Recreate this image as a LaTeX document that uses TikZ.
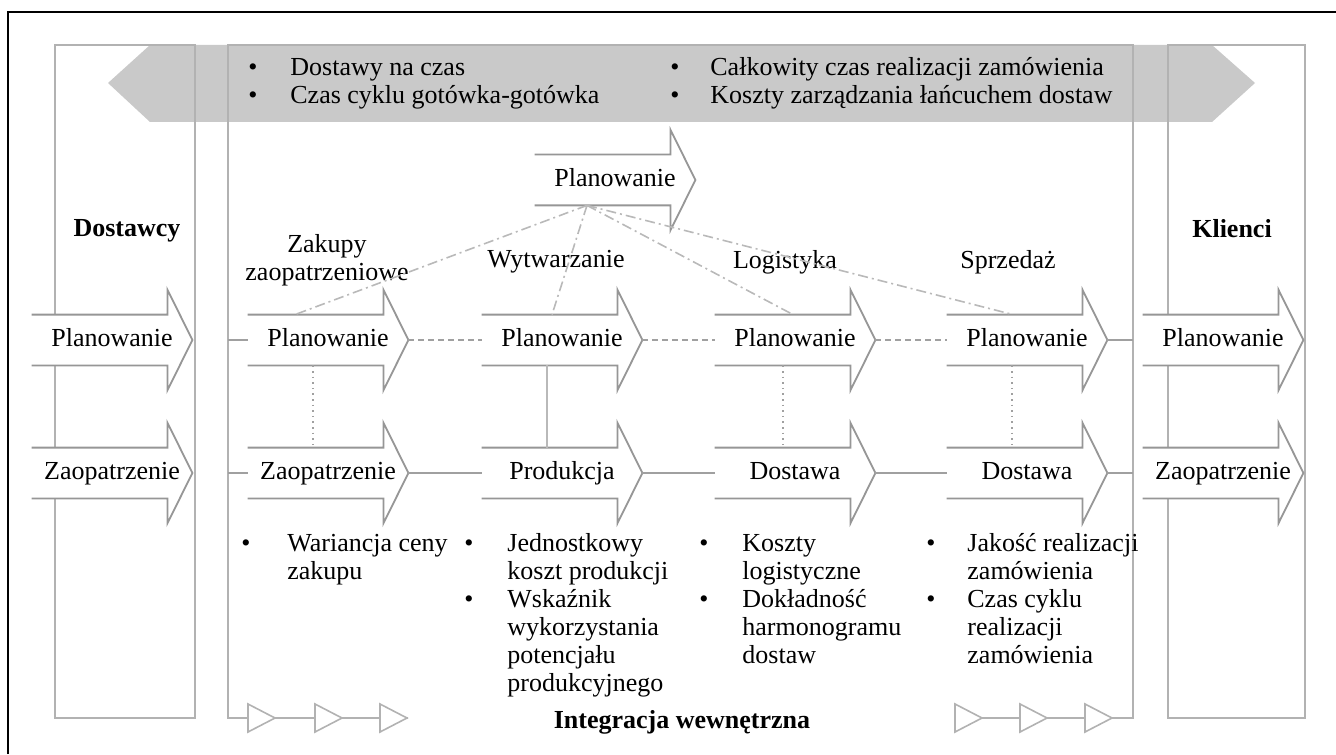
\documentclass[tikz,border=0pt]{standalone}
\usepackage{fontspec}
\setmainfont{Liberation Serif}
\usepackage{array}
\usetikzlibrary{positioning,calc}

\definecolor{bandgrey}{RGB}{201,201,201}
\definecolor{framegrey}{RGB}{178,178,178}
\definecolor{arrowgrey}{RGB}{150,150,150}
\definecolor{linkgrey}{RGB}{160,160,160}
\definecolor{fangrey}{RGB}{185,185,185}

\newcommand{\kb}{\textbullet}

\pgfdeclarelayer{back}
\pgfdeclarelayer{mid}
\pgfsetlayers{back,mid,main}

\begin{document}
\begin{tikzpicture}[x=0.5pt, y=-0.5pt,
        font=\fontsize{13}{14}\selectfont,
        flow/.style={minimum width=80pt, minimum height=25pt, inner sep=0pt, text height=9pt, text depth=2.5pt},
        arrline/.style={draw=arrowgrey, line width=0.9pt, fill=white},
        frame/.style={draw=framegrey, line width=0.9pt},
        link/.style={draw=linkgrey, line width=0.8pt},
        planlink/.style={link, dash pattern=on 3pt off 2pt},
        dotlink/.style={link, dotted},
        fanlink/.style={draw=fangrey, line width=0.8pt, dash pattern=on 5pt off 2pt on 1pt off 2pt},
        tri/.style={draw=framegrey, line width=0.8pt, fill=white},
        head/.style={font=\fontsize{13}{14}\selectfont\bfseries},
        kpi/.style={anchor=base west, inner sep=0pt, align=left}
    ]
    \useasboundingbox (0,0) rectangle (1336,754);

    % outer frame
    \draw[line width=1pt] (8,754) -- (8,12) -- (1336,12);

    % corners of the internal integration box
    \coordinate (wewNW) at (228,45);
    \coordinate (wewSE) at (1133,718);

    % Nodes
    \node[flow] (dp) at (112,340) {Planowanie};
    \node[flow] (dz) at (112,473) {Zaopatrzenie};
    \node[flow] (zp) at (328,340) {Planowanie};
    \node[flow] (zz) at (328,473) {Zaopatrzenie};
    \node[flow] (wp) at (562,340) {Planowanie};
    \node[flow] (wz) at (562,473) {Produkcja};
    \node[flow] (lp) at (795,340) {Planowanie};
    \node[flow] (lz) at (795,473) {Dostawa};
    \node[flow] (sp) at (1027,340) {Planowanie};
    \node[flow] (sz) at (1027,473) {Dostawa};
    \node[flow] (kp) at (1223,340) {Planowanie};
    \node[flow] (kz) at (1223,473) {Zaopatrzenie};
    \node[flow] (plan) at (615,180) {Planowanie};

    \node[head] (dost) at (127,231) {Dostawcy};
    \node[head] (klie) at (1232,229) {Klienci};
    \node[align=center] (zak) at (327,260) {Zakupy\\zaopatrzeniowe};
    \node (wyt) at (556,262) {Wytwarzanie};
    \node (logi) at (785,262) {Logistyka};
    \node (sprz) at (1008,262) {Sprzedaż};
    \node[head] (integ) at (682,722) {Integracja wewnętrzna};

    \node[kpi] (miary) at (248,76) {%
        \begin{tabular}[t]{@{}p{21pt}@{}p{190pt}@{}p{20pt}@{}l@{}}
        \kb & Dostawy na czas & \kb & Całkowity czas realizacji zamówienia\\
        \kb & Czas cyklu gotówka-gotówka & \kb & Koszty zarządzania łańcuchem dostaw
        \end{tabular}};

    \node[kpi] (kzak) at (241,551) {%
        \begin{tabular}[t]{@{}p{23pt}@{}l@{}}
        \kb & Wariancja ceny\\
         & zakupu
        \end{tabular}};
    \node[kpi] (kwyt) at (464,551) {%
        \begin{tabular}[t]{@{}p{21.5pt}@{}l@{}}
        \kb & Jednostkowy\\
         & koszt produkcji\\
        \kb & Wskaźnik\\
         & wykorzystania\\
         & potencjału\\
         & produkcyjnego
        \end{tabular}};
    \node[kpi] (klog) at (699,551) {%
        \begin{tabular}[t]{@{}p{21.5pt}@{}l@{}}
        \kb & Koszty\\
         & logistyczne\\
        \kb & Dokładność\\
         & harmonogramu\\
         & dostaw
        \end{tabular}};
    \node[kpi] (ksprz) at (926,551) {%
        \begin{tabular}[t]{@{}p{20.5pt}@{}l@{}}
        \kb & Jakość realizacji\\
         & zamówienia\\
        \kb & Czas cyklu\\
         & realizacji\\
         & zamówienia
        \end{tabular}};

    % band and boxes
    \begin{pgfonlayer}{back}
        \fill[bandgrey] (108,83) -- (150,45) -- (1212,45) -- (1255,83) -- (1212,122) -- (150,122) -- cycle;
        \draw[frame] (55,45) rectangle (195,718);
        \draw[frame] (1168,45) rectangle (1305,718);
        \draw[frame] ($(wewNW|-wewSE)+(180,0)$) -- (wewNW|-wewSE) -- (wewNW)
            -- (wewNW-|wewSE) -- (wewSE) -- ++(-178,0);
    \end{pgfonlayer}

    % block arrows
    \begin{pgfonlayer}{mid}
        \foreach \n in {dp,dz,zp,zz,wp,wz,lp,lz,sp,sz,kp,kz,plan}
            \draw[arrline] (\n.north west) -- ($(\n.north east)+(-25,0)$) -- ++(0,-25)
                -- (\n.east) -- ($(\n.south east)+(-25,25)$) -- ++(0,-25) -- (\n.south west);
    \end{pgfonlayer}

    \foreach \x in {248,315,380,955,1020,1085}
        \draw[tri] (\x,704) -- (\x+27,718) -- (\x,732) -- cycle;

    % Edges
    \draw[link] (wewNW |- zp.west) -- (zp.west);
    \draw[link] (wewNW |- zz.west) -- (zz.west);
    \draw[planlink] (zp.east) -- (wp.west);
    \draw[planlink] (wp.east) -- (lp.west);
    \draw[planlink] (lp.east) -- (sp.west);
    \draw[link] (sp.east) -- (wewSE |- sp.east);
    \draw[link] (zz.east) -- (wz.west);
    \draw[link] (wz.east) -- (lz.west);
    \draw[link] (lz.east) -- (sz.west);
    \draw[link] (sz.east) -- (wewSE |- sz.east);

    \draw[dotlink] ($(zp.south)+(-15,0)$) -- ($(zz.north)+(-15,0)$);
    \draw[link, draw=fangrey] ($(wp.south)+(-15,0)$) -- ($(wz.north)+(-15,0)$);
    \draw[dotlink] ($(lp.south)+(-12,0)$) -- ($(lz.north)+(-12,0)$);
    \draw[dotlink] ($(sp.south)+(-15,0)$) -- ($(sz.north)+(-15,0)$);

    \coordinate (fan) at ($(plan.south)+(-28,0)$);
    \draw[fanlink] (fan) -- ($(zp.north)+(-33,0)$);
    \draw[fanlink] (fan) -- ($(wp.north)+(-10,0)$);
    \draw[fanlink] (fan) -- ($(lp.north)+(-2,0)$);
    \draw[fanlink] (fan) -- ($(sp.north)+(-14,0)$);
\end{tikzpicture}
\end{document}
